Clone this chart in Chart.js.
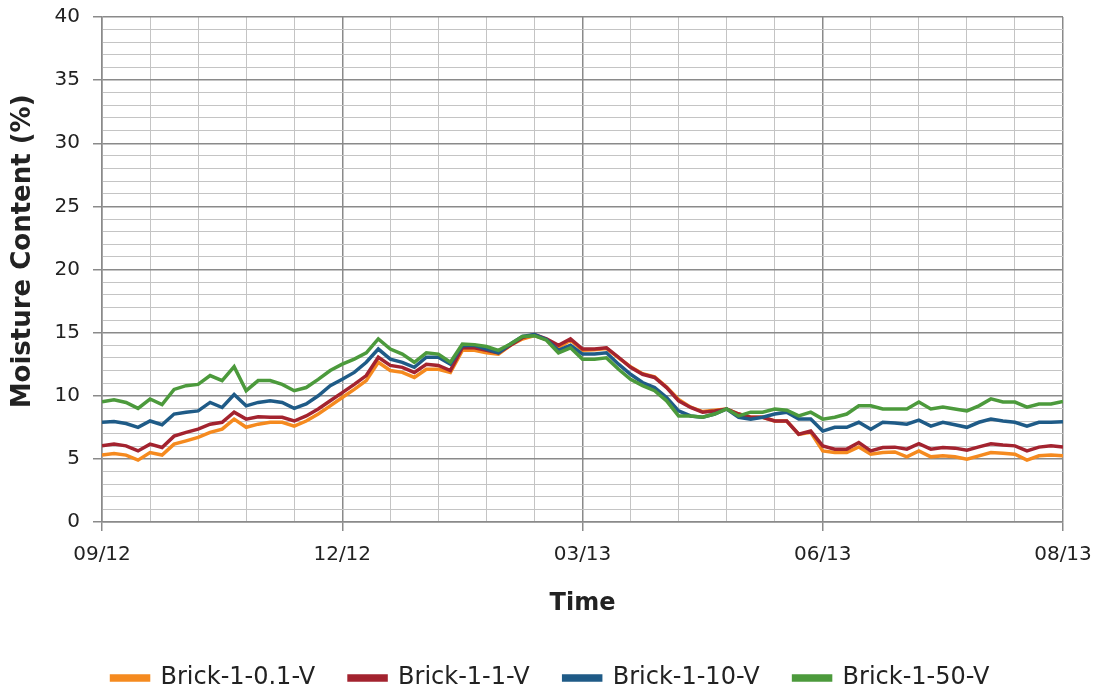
<!DOCTYPE html>
<html>
<head>
<meta charset="utf-8">
<script src="https://cdn.jsdelivr.net/npm/chart.js@4"></script>
<style>
  html, body { margin: 0; padding: 0; background: #fff; }
  #wrap { width: 1101px; height: 690px; }
</style>
</head>
<body>
<div id="wrap"><canvas id="chart" width="1101" height="690"></canvas></div>
<script>
// 시간축: 격자 한 칸 = 1, 샘플 간격 0.25칸
const xLabels = ['09/12', '12/12', '03/13', '06/13', '08/13'];
const sampleStep = 0.25;
const seriesNames = ['Brick-1-0.1-V', 'Brick-1-1-V', 'Brick-1-10-V', 'Brick-1-50-V'];

const brick01 = [5.3,5.42,5.3,4.9,5.5,5.3,6.17,6.43,6.7,7.1,
  7.35,8.15,7.5,7.75,7.9,7.9,7.6,8.0,8.55,9.2,
  9.86,10.5,11.2,12.65,12.0,11.85,11.45,12.1,12.1,11.85,
  13.6,13.6,13.4,13.3,14.0,14.5,14.76,14.45,13.8,14.4,
  13.6,13.65,13.75,13.0,12.3,11.75,11.5,10.7,9.7,9.1,
  8.75,8.85,8.95,8.55,8.3,8.3,8.0,8.0,6.95,7.1,
  5.63,5.5,5.5,5.95,5.37,5.5,5.55,5.16,5.63,5.16,
  5.24,5.16,4.97,5.24,5.5,5.45,5.37,4.9,5.24,5.3,
  5.24];
const brick1 = [6.03,6.17,6.03,5.63,6.17,5.9,6.8,7.1,7.35,7.75,
  7.9,8.7,8.15,8.33,8.3,8.3,8.0,8.4,8.95,9.6,
  10.25,10.9,11.6,13.05,12.4,12.25,11.85,12.5,12.4,12.0,
  13.8,13.8,13.6,13.4,14.0,14.6,14.84,14.5,14.0,14.5,
  13.7,13.7,13.8,13.05,12.25,11.7,11.45,10.65,9.6,9.07,
  8.7,8.8,8.95,8.55,8.3,8.3,8.0,8.0,6.95,7.2,
  6.03,5.77,5.77,6.3,5.63,5.9,5.93,5.77,6.2,5.77,
  5.9,5.85,5.69,5.95,6.2,6.1,6.03,5.63,5.93,6.03,
  5.95];
const brick10 = [7.9,7.96,7.8,7.5,8.0,7.7,8.55,8.7,8.8,9.47,
  9.07,10.1,9.2,9.47,9.6,9.47,9.0,9.35,10.0,10.8,
  11.3,11.85,12.65,13.7,12.9,12.65,12.25,13.05,13.05,12.5,
  13.97,14.0,13.7,13.4,14.1,14.7,14.84,14.45,13.6,14.0,
  13.3,13.3,13.4,12.5,11.7,11.05,10.65,9.86,8.8,8.4,
  8.3,8.55,8.95,8.3,8.15,8.3,8.55,8.7,8.15,8.15,
  7.2,7.5,7.5,7.9,7.35,7.9,7.85,7.75,8.07,7.6,
  7.9,7.7,7.5,7.9,8.15,8.0,7.9,7.6,7.9,7.9,
  7.95];
const brick50 = [9.52,9.68,9.47,9.0,9.74,9.3,10.5,10.8,10.9,11.6,
  11.2,12.3,10.4,11.2,11.2,10.9,10.4,10.65,11.3,12.0,
  12.5,12.9,13.4,14.5,13.7,13.3,12.65,13.4,13.3,12.65,
  14.1,14.05,13.9,13.6,14.1,14.7,14.76,14.4,13.4,13.8,
  12.9,12.9,13.0,12.1,11.3,10.8,10.4,9.6,8.4,8.4,
  8.3,8.55,8.95,8.4,8.7,8.7,8.95,8.85,8.4,8.7,
  8.15,8.3,8.55,9.2,9.2,8.95,8.95,8.95,9.5,8.95,
  9.1,8.95,8.8,9.2,9.75,9.5,9.5,9.1,9.35,9.35,
  9.55];

const colors = ['#f58a1f', '#a3232f', '#1f5b87', '#4c9a3c'];
const allSeries = [brick01, brick1, brick10, brick50];

const toPoints = arr => arr.map((v, i) => ({ x: i * sampleStep, y: v }));

const datasets = allSeries.map((arr, k) => ({
  label: seriesNames[k],
  data: toPoints(arr),
  borderColor: colors[k],
  backgroundColor: colors[k],
  borderWidth: 3.5,
  pointRadius: 0,
  tension: 0,
  fill: false,
  order: 4 - k   // 녹색이 맨 위
}));

const majorGrid = '#8a8a8a';
const minorGrid = '#c4c4c4';
const font = 'DejaVu Sans';
const isMajor = c => c.tick && c.tick.value % 5 === 0;

new Chart(document.getElementById('chart'), {
  type: 'line',
  data: { datasets },
  options: {
    responsive: false,
    animation: false,
    layout: { padding: { left: 0, right: 0, top: 17, bottom: -10 } },
    plugins: {
      legend: {
        position: 'bottom',
        labels: {
          boxWidth: 37,
          boxHeight: 4,
          padding: 34,
          color: '#222',
          font: { family: font, size: 24 },
          sort: (a, b) => a.datasetIndex - b.datasetIndex
        }
      },
      tooltip: { enabled: false }
    },
    scales: {
      x: {
        type: 'linear',
        min: 0,
        max: 20,
        afterFit: s => {
          s.height = 110;
          s.paddingLeft = 0;
          s.paddingRight = 38;
        },
        ticks: {
          stepSize: 1,
          autoSkip: false,
          maxRotation: 0,
          padding: 12,
          color: '#222',
          font: { family: font, size: 20 },
          callback: v => (v % 5 === 0 ? xLabels[v / 5] : '')
        },
        grid: {
          color: c => (isMajor(c) ? majorGrid : minorGrid),
          lineWidth: c => (isMajor(c) ? 1.5 : 1),
          tickColor: c => (isMajor(c) ? majorGrid : 'rgba(0,0,0,0)'),
          tickLength: 9
        },
        border: { color: majorGrid, width: 1.5 },
        title: {
          display: true,
          text: 'Time',
          color: '#222',
          font: { family: font, size: 24, weight: 'bold' },
          padding: { top: 10, bottom: 14 }
        }
      },
      y: {
        min: 0,
        max: 40,
        afterFit: s => {
          s.width = 102;
          s.paddingTop = 0;
          s.paddingBottom = 0;
        },
        ticks: {
          stepSize: 1,
          autoSkip: false,
          padding: 13,
          color: '#222',
          font: { family: font, size: 20 },
          callback: v => (v % 5 === 0 ? v : '')
        },
        grid: {
          color: c => (isMajor(c) ? majorGrid : minorGrid),
          lineWidth: c => (isMajor(c) ? 1.5 : 1),
          tickColor: c => (isMajor(c) ? majorGrid : 'rgba(0,0,0,0)'),
          tickLength: 9
        },
        border: { color: majorGrid, width: 1.5 },
        title: {
          display: true,
          text: '    Moisture Content (%)',
          color: '#222',
          font: { family: font, size: 26, weight: 'bold' },
          padding: { top: 8, bottom: 0 }
        }
      }
    }
  }
});
</script>
</body>
</html>
